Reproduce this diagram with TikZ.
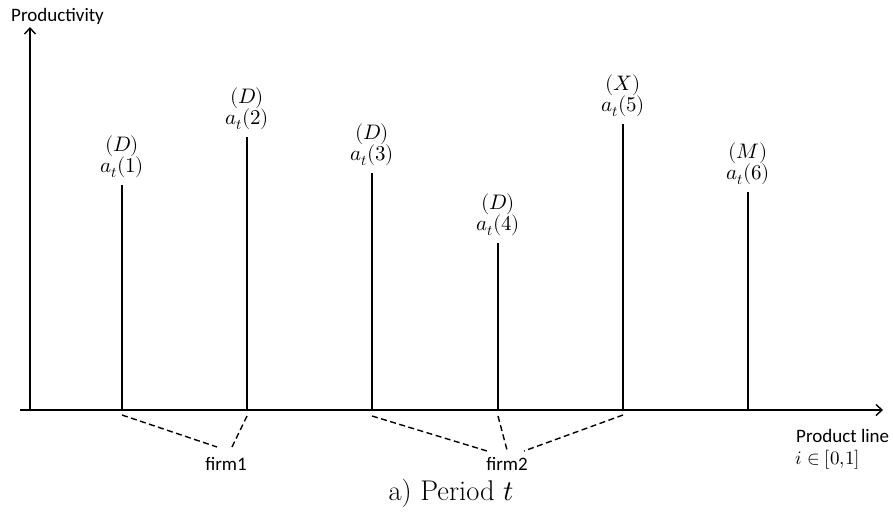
\documentclass[tikz,border=0pt]{standalone}
\usepackage{unicode-math}
\setmathfont{Latin Modern Math}
\setsansfont{Carlito}
\usetikzlibrary{arrows.meta}
\begin{document}
\begin{tikzpicture}[x=1pt,y=-1pt,
  axis/.style={line width=1.6pt,-{Straight Barb[length=6pt,width=11pt,line width=1.4pt]}},
  bar/.style={line width=1.6pt},
  firmline/.style={line width=1.4pt,dash pattern=on 6pt off 3.5pt},
  lbl/.style={font=\fontsize{21}{21}\selectfont,align=center,inner sep=0pt,anchor=south},
  sftext/.style={font=\sffamily\fontsize{19}{22}\selectfont,inner sep=0pt}]
\useasboundingbox (0,0) rectangle (893,517);
% axes
\coordinate (o) at (30,410);
\coordinate (ytip) at (30,27);
\coordinate (xstart) at (20,410);
\coordinate (xtip) at (883,410);
\draw[axis] (o) -- (ytip);
\draw[axis] (xstart) -- (xtip);
\node[sftext,anchor=west] (ylab) at (11,16) {Productivity};
\node[sftext,anchor=west] (xlab) at (796,436) {Product line};
\node[font=\fontsize{19}{22}\selectfont,inner sep=0pt,anchor=west] (xlab2) at (795,460) {$i\in[0{,}1]$};
% bars
\foreach \i/\x/\t/\l in {1/122/185/D,2/247/137/D,3/372/173/D,4/498/243/D,5/623/124/X,6/748/192/M}{
  \coordinate (b\i) at (\x,410);
  \coordinate (t\i) at (\x,\t);
  \draw[bar] (b\i) -- (t\i);
  \node[lbl] (l\i) at ([yshift=7pt]t\i) {$(\l)$\\$a_t(\i)$};
}
% firms
\node[sftext] (f1) at (226,464) {firm1};
\node[sftext] (f2) at (507,464) {firm2};
\draw[firmline] ([yshift=-5pt]b1) -- (217,447);
\draw[firmline] ([yshift=-6pt]b2) -- (232,447);
\draw[firmline] ([yshift=-6pt]b3) -- (487,451);
\draw[firmline] ([yshift=-6pt]b4) -- (507,450);
\draw[firmline] ([yshift=-5pt]b5) -- (524,451);
% caption
\node[font=\fontsize{28.5}{30}\selectfont,inner sep=0pt] (cap) at (451,493) {a) Period $t$};
\end{tikzpicture}
\end{document}
